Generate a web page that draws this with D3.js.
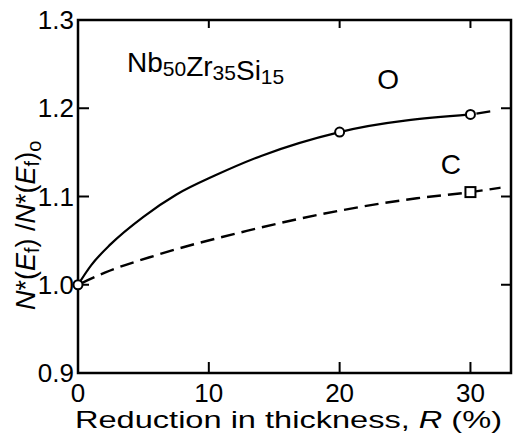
<!DOCTYPE html>
<html>
<head>
<meta charset="utf-8">
<script src="https://cdn.jsdelivr.net/npm/d3@7"></script>
<style>
  body { margin: 0; background: #fff; }
  text { font-family: "Liberation Sans", Arial, sans-serif; fill: #000; }
</style>
</head>
<body>
<svg id="chart" width="513" height="435"></svg>
<script>
// values
const xTicks = [0, 10, 20, 30];
const yTicks = [0.9, 1.0, 1.1, 1.2, 1.3];
const yTickLabels = ["0.9", "1.0", "1.1", "1.2", "1.3"];

// O curve (solid) and its dashed extension
const curveO = [[0, 1.0], [1, 1.022], [2.5, 1.046], [5, 1.077], [7.5, 1.102], [10.5, 1.124], [14, 1.146], [20, 1.173], [30, 1.193]];
const curveOext = [[30, 1.193], [31.8, 1.197]];
// C curve (dashed)
const curveC = [[0, 1.0], [2.1, 1.014], [6.1, 1.034], [12.9, 1.061], [20, 1.084], [25.9, 1.098], [30, 1.105], [32.3, 1.11]];

const pointsO = [[0, 1.0], [20, 1.173], [30, 1.193]];
const pointsC = [[30, 1.105]];

const svg = d3.select("#chart");
const margin = { top: 20, right: 2, bottom: 62, left: 78 };
const width = +svg.attr("width") - margin.left - margin.right;
const height = +svg.attr("height") - margin.top - margin.bottom;

const x = d3.scaleLinear().domain([0, 33.1]).range([0, width]);
const y = d3.scaleLinear().domain([0.9, 1.3]).range([height, 0]);

const g = svg.append("g").attr("transform", `translate(${margin.left},${margin.top})`);

// frame
g.append("rect")
  .attr("width", width)
  .attr("height", height)
  .attr("fill", "none")
  .attr("stroke", "#000")
  .attr("stroke-width", 2.5);

// inward ticks on all four sides
const tl = 11;
xTicks.filter((d) => d > 0).forEach((d) => {
  g.append("line").attr("x1", x(d)).attr("x2", x(d)).attr("y1", height).attr("y2", height - tl)
    .attr("stroke", "#000").attr("stroke-width", 2);
  g.append("line").attr("x1", x(d)).attr("x2", x(d)).attr("y1", 0).attr("y2", 8)
    .attr("stroke", "#000").attr("stroke-width", 2);
});
yTicks.filter((d) => d > 0.9 && d < 1.3).forEach((d) => {
  g.append("line").attr("x1", 0).attr("x2", tl).attr("y1", y(d)).attr("y2", y(d))
    .attr("stroke", "#000").attr("stroke-width", 2);
  g.append("line").attr("x1", width).attr("x2", width - 10).attr("y1", y(d)).attr("y2", y(d))
    .attr("stroke", "#000").attr("stroke-width", 2);
});

// tick labels
g.selectAll(".xl").data(xTicks).enter().append("text")
  .attr("x", (d) => x(d))
  .attr("y", height + 29)
  .attr("text-anchor", "middle")
  .style("font-size", "26px")
  .text((d) => d);

g.selectAll(".yl").data(yTicks).enter().append("text")
  .attr("x", -4)
  .attr("y", (d) => y(d) + 9)
  .attr("text-anchor", "end")
  .style("font-size", "26px")
  .text((d, i) => yTickLabels[i]);

// curves
const line = d3.line().x((d) => x(d[0])).y((d) => y(d[1])).curve(d3.curveMonotoneX);

g.append("path").datum(curveO).attr("d", line)
  .attr("fill", "none").attr("stroke", "#000").attr("stroke-width", 2.2);
g.append("path").datum(curveOext).attr("d", line)
  .attr("fill", "none").attr("stroke", "#000").attr("stroke-width", 2.2)
  .attr("stroke-dasharray", "14 6").attr("stroke-dashoffset", -6);
g.append("path").datum(curveC).attr("d", line)
  .attr("fill", "none").attr("stroke", "#000").attr("stroke-width", 2.4)
  .attr("stroke-dasharray", "14 7").attr("stroke-dashoffset", -4);

// markers
g.selectAll(".po").data(pointsO).enter().append("circle")
  .attr("cx", (d) => x(d[0]))
  .attr("cy", (d) => y(d[1]))
  .attr("r", 4.5)
  .attr("fill", "#fff")
  .attr("stroke", "#000")
  .attr("stroke-width", 2);
g.selectAll(".pc").data(pointsC).enter().append("rect")
  .attr("x", (d) => x(d[0]) - 5)
  .attr("y", (d) => y(d[1]) - 5)
  .attr("width", 10)
  .attr("height", 10)
  .attr("fill", "#fff")
  .attr("stroke", "#000")
  .attr("stroke-width", 2);

// curve labels
g.append("text").attr("x", x(23.7)).attr("y", y(1.222))
  .attr("text-anchor", "middle").style("font-size", "28px").text("O");
g.append("text").attr("x", x(28.5)).attr("y", y(1.126))
  .attr("text-anchor", "middle").style("font-size", "28px").text("C");

// composition label
const comp = svg.append("text").attr("x", 127).attr("y", 72).style("font-size", "28px");
[["Nb", "50"], ["Zr", "35"], ["Si", "15"]].forEach(([el, n]) => {
  comp.append("tspan").text(el);
  comp.append("tspan").attr("dy", 4).style("font-size", "21px").text(n);
  comp.append("tspan").attr("dy", -4).text("");
});

// x axis title
svg.append("text")
  .attr("x", 75)
  .attr("y", 428)
  .attr("textLength", 427)
  .attr("lengthAdjust", "spacingAndGlyphs")
  .style("font-size", "24px")
  .html('Reduction in thickness, <tspan font-style="italic">R</tspan> (%)');

// y axis title
const yt = svg.append("text")
  .attr("transform", "translate(35,310) rotate(-90)")
  .attr("x", 0)
  .attr("y", 0)
  .style("font-size", "27px");
yt.append("tspan").style("font-style", "italic").text("N");
yt.append("tspan").text("*(");
yt.append("tspan").style("font-style", "italic").text("E");
yt.append("tspan").attr("dy", 4).style("font-size", "20px").text("f");
yt.append("tspan").attr("dy", -4).text(") /");
yt.append("tspan").style("font-style", "italic").text("N");
yt.append("tspan").text("*(");
yt.append("tspan").style("font-style", "italic").text("E");
yt.append("tspan").attr("dy", 4).style("font-size", "20px").text("f");
yt.append("tspan").attr("dy", -4).text(")");
yt.append("tspan").attr("dy", 6).style("font-size", "20px").text("o");
</script>
</body>
</html>
